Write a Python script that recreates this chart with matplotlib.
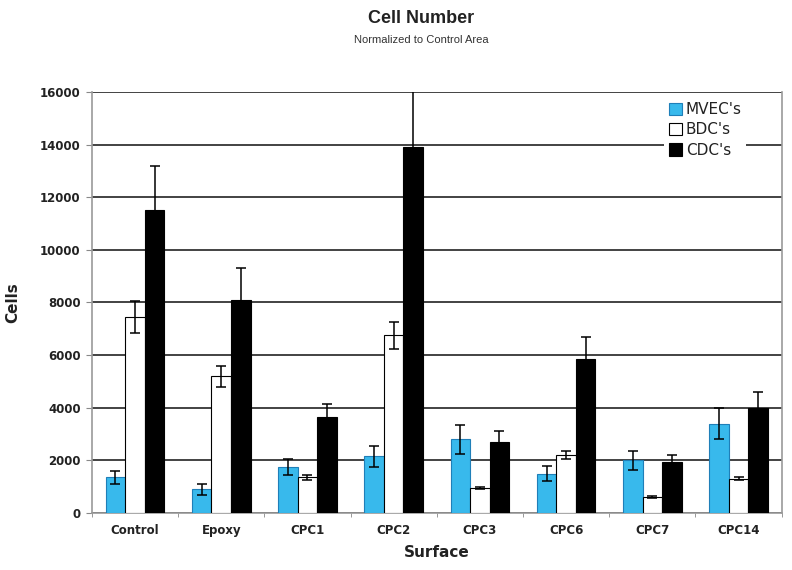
import numpy as np
import matplotlib
matplotlib.use('Agg')
import matplotlib.pyplot as plt

plt.rcParams['font.family'] = ['DejaVu Sans']

# 数据
surfaces = ["Control", "Epoxy", "CPC1", "CPC2", "CPC3", "CPC6", "CPC7", "CPC14"]
series_names = ["MVEC's", "BDC's", "CDC's"]
mvec = [1350, 900, 1750, 2150, 2800, 1500, 2000, 3400]
mvec_err = [250, 200, 300, 400, 550, 300, 350, 600]
bdc = [7450, 5200, 1350, 6750, 950, 2200, 600, 1300]
bdc_err = [600, 400, 100, 500, 50, 150, 30, 60]
cdc = [11500, 8100, 3650, 13900, 2700, 5850, 1950, 4000]
cdc_err = [1700, 1200, 500, 2400, 400, 850, 250, 600]

colors = ["#38b9ec", "white", "black"]
edges = ["#1f7fb8", "black", "black"]

fig = plt.figure(figsize=(7.92, 5.70), dpi=100)
ax = fig.add_axes([0.116, 0.1, 0.871, 0.7386])

x = np.arange(len(surfaces))
w = 0.227
for i, (vals, errs) in enumerate([(mvec, mvec_err), (bdc, bdc_err), (cdc, cdc_err)]):
    ax.bar(x + (i - 1) * w, vals, w, color=colors[i], edgecolor=edges[i],
           linewidth=0.8, label=series_names[i], zorder=3,
           yerr=errs, error_kw=dict(ecolor="black", elinewidth=1.1,
                                     capsize=3.3, capthick=1.1, zorder=4))

ax.set_xlim(-0.5, len(surfaces) - 0.5)
ax.set_ylim(0, 16000)
ax.set_yticks(np.arange(0, 16001, 2000))
ax.set_xticks(x)
ax.set_xticklabels(surfaces, fontsize=8.5, fontweight="bold", color="#222222")
for lab in ax.get_yticklabels():
    lab.set_fontsize(8.5)
    lab.set_fontweight("bold")
    lab.set_color("#222222")
ax.tick_params(axis="x", length=0, pad=8)
ax.tick_params(axis="y", length=4, color="#888888", pad=4)
ax.set_xticks(np.arange(-0.5, len(surfaces), 1.0), minor=True)
ax.tick_params(axis="x", which="minor", length=3, color="#888888", direction="out")

ax.yaxis.grid(True, color="#222222", linewidth=1.2, zorder=0)
ax.set_axisbelow(True)
for s in ["left", "right", "bottom"]:
    ax.spines[s].set_color("#999999")
    ax.spines[s].set_linewidth(1.2)
ax.spines["top"].set_visible(False)

ax.set_xlabel("Surface", fontsize=11, fontweight="bold", color="#222222", labelpad=6)
ax.set_ylabel("Cells", fontsize=11, fontweight="bold", color="#222222", labelpad=14)

leg = ax.legend(loc="upper right", bbox_to_anchor=(0.96, 1.005), frameon=True,
                fontsize=11, handlelength=0.85, handleheight=0.85,
                handletextpad=0.25, labelspacing=0.35, borderpad=0.3)
leg.get_frame().set_facecolor("white")
leg.get_frame().set_edgecolor("none")
leg.get_frame().set_alpha(1.0)
leg.set_zorder(5)
for t in leg.get_texts():
    t.set_color("#222222")

fig.text(0.532, 0.968, "Cell Number", ha="center", va="center",
         fontsize=13, fontweight="bold", color="#222222",
         family=["Liberation Sans", "DejaVu Sans"])
fig.text(0.532, 0.93, "Normalized to Control Area", ha="center", va="center",
         fontsize=8, color="#333333", family=["Liberation Sans", "DejaVu Sans"])

fig.savefig("out.png", dpi=100)
plt.close(fig)
